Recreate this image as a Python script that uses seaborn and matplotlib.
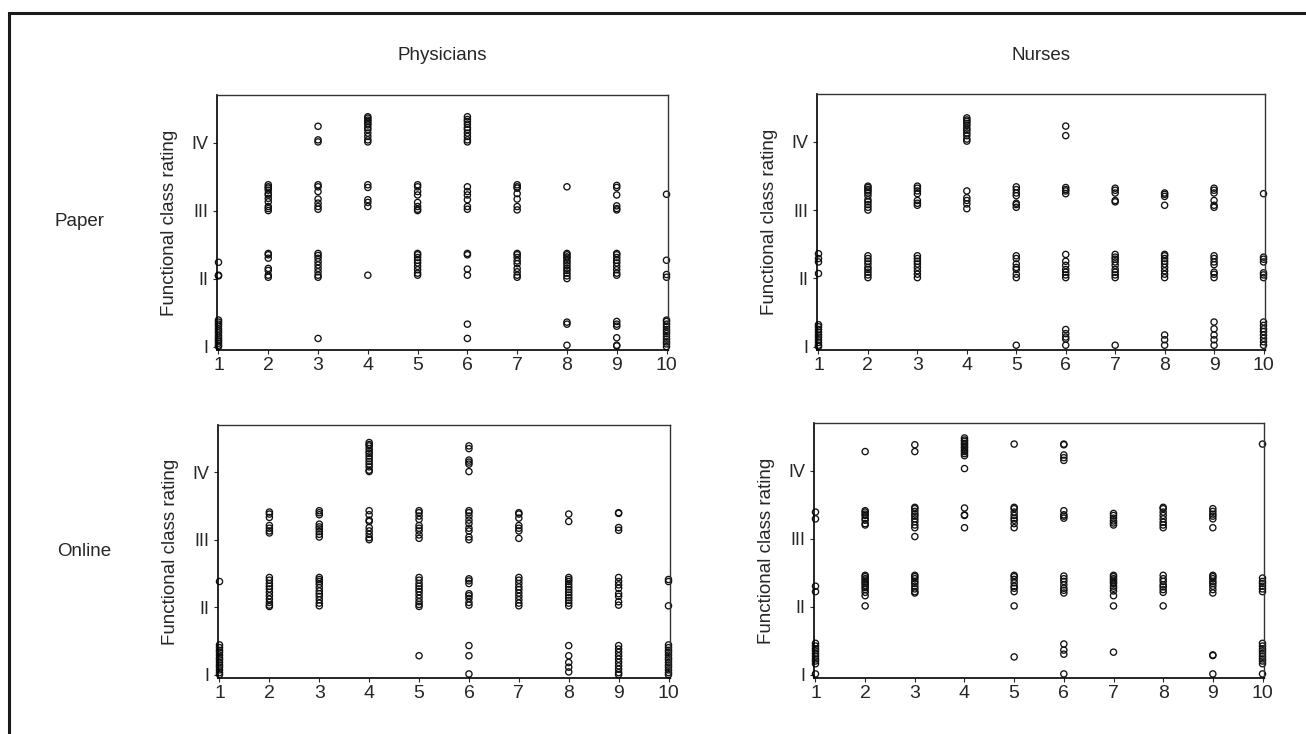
import pandas as pd
import matplotlib.pyplot as plt
import seaborn as sns
from matplotlib.patches import Rectangle

# jittered functional-class ratings per case (1..10)
phys_paper = {
    1: [1.00, 1.02, 1.05, 1.08, 1.10, 1.13, 1.16, 1.20, 1.23, 1.26, 1.30, 1.33, 1.36, 1.39, 2.04, 2.05, 2.24],
    2: [2.02, 2.05, 2.12, 2.15, 2.30, 2.35, 2.37, 3.00, 3.03, 3.06, 3.13, 3.18, 3.23, 3.25, 3.30, 3.33, 3.35, 3.38],
    3: [1.12, 2.02, 2.05, 2.10, 2.15, 2.20, 2.25, 2.30, 2.34, 2.37, 3.02, 3.06, 3.11, 3.17, 3.28, 3.35, 3.38,
        4.01, 4.04, 4.24],
    4: [2.05, 3.06, 3.12, 3.16, 3.34, 3.38, 4.01, 4.04, 4.09, 4.14, 4.19, 4.22, 4.26, 4.28, 4.31, 4.33, 4.36, 4.38],
    5: [2.05, 2.08, 2.13, 2.18, 2.23, 2.27, 2.31, 2.35, 2.37, 3.00, 3.02, 3.06, 3.12, 3.23, 3.28, 3.35, 3.38],
    6: [1.12, 1.33, 2.05, 2.14, 2.35, 2.37, 3.02, 3.06, 3.16, 3.23, 3.28, 3.35, 4.01, 4.04, 4.09, 4.14, 4.19,
        4.22, 4.27, 4.31, 4.34, 4.38],
    7: [2.02, 2.05, 2.10, 2.15, 2.22, 2.26, 2.31, 2.35, 2.37, 3.01, 3.06, 3.17, 3.25, 3.33, 3.35, 3.38],
    8: [1.02, 1.33, 1.36, 2.00, 2.04, 2.08, 2.12, 2.15, 2.19, 2.23, 2.26, 2.30, 2.32, 2.35, 2.37, 3.35],
    9: [1.01, 1.02, 1.13, 1.30, 1.33, 1.37, 2.05, 2.08, 2.13, 2.18, 2.23, 2.27, 2.31, 2.35, 2.37, 3.01, 3.03,
        3.07, 3.23, 3.34, 3.37],
    10: [1.00, 1.04, 1.07, 1.11, 1.15, 1.19, 1.22, 1.25, 1.29, 1.33, 1.37, 1.39, 2.02, 2.06, 2.27, 3.24],
}

nurse_paper = {
    1: [1.00, 1.02, 1.06, 1.10, 1.14, 1.17, 1.21, 1.25, 1.29, 1.32, 2.07, 2.24, 2.29, 2.36],
    2: [2.01, 2.05, 2.09, 2.13, 2.16, 2.21, 2.25, 2.29, 2.33, 3.00, 3.04, 3.08, 3.12, 3.15, 3.21, 3.25, 3.28,
        3.30, 3.33, 3.35],
    3: [2.01, 2.06, 2.11, 2.16, 2.21, 2.25, 2.29, 2.33, 3.07, 3.10, 3.14, 3.24, 3.28, 3.32, 3.35],
    4: [3.02, 3.09, 3.14, 3.18, 3.28, 4.01, 4.04, 4.09, 4.13, 4.17, 4.20, 4.24, 4.27, 4.30, 4.32, 4.35],
    5: [1.02, 2.01, 2.06, 2.13, 2.16, 2.21, 2.29, 2.33, 3.04, 3.08, 3.10, 3.21, 3.25, 3.30, 3.34],
    6: [1.02, 1.11, 1.14, 1.19, 1.25, 2.01, 2.05, 2.09, 2.13, 2.19, 2.25, 2.35, 3.24, 3.28, 3.30, 3.33,
        4.09, 4.23],
    7: [1.02, 2.01, 2.05, 2.09, 2.13, 2.19, 2.24, 2.28, 2.31, 2.35, 3.12, 3.14, 3.25, 3.29, 3.32],
    8: [1.02, 1.10, 1.17, 2.01, 2.06, 2.11, 2.16, 2.21, 2.25, 2.29, 2.33, 2.35, 3.07, 3.20, 3.23, 3.25],
    9: [1.02, 1.10, 1.17, 1.26, 1.36, 2.01, 2.06, 2.09, 2.20, 2.24, 2.29, 2.33, 3.04, 3.07, 3.14, 3.25,
        3.29, 3.32],
    10: [1.02, 1.07, 1.12, 1.17, 1.22, 1.26, 1.31, 1.36, 2.01, 2.05, 2.08, 2.24, 2.28, 2.31, 3.24],
}

phys_online = {
    1: [1.00, 1.03, 1.07, 1.11, 1.14, 1.18, 1.22, 1.25, 1.29, 1.33, 1.36, 1.40, 1.44, 2.38],
    2: [2.01, 2.03, 2.07, 2.12, 2.17, 2.22, 2.27, 2.31, 2.35, 2.40, 2.44, 3.10, 3.13, 3.17, 3.21, 3.33,
        3.38, 3.41],
    3: [2.02, 2.06, 2.11, 2.16, 2.20, 2.24, 2.29, 2.34, 2.38, 2.41, 2.44, 3.04, 3.08, 3.12, 3.16, 3.19,
        3.23, 3.37, 3.40, 3.43],
    4: [3.00, 3.03, 3.08, 3.13, 3.18, 3.27, 3.29, 3.37, 3.43, 4.01, 4.03, 4.08, 4.12, 4.16, 4.20, 4.24,
        4.28, 4.31, 4.35, 4.39, 4.41, 4.44],
    5: [1.28, 2.01, 2.04, 2.08, 2.13, 2.18, 2.23, 2.27, 2.31, 2.35, 2.40, 2.44, 3.02, 3.07, 3.13, 3.17,
        3.21, 3.30, 3.35, 3.40, 3.43],
    6: [1.01, 1.28, 1.43, 2.03, 2.07, 2.13, 2.17, 2.20, 2.35, 2.39, 2.42, 3.00, 3.04, 3.13, 3.17, 3.24,
        3.29, 3.35, 3.40, 3.43, 4.01, 4.12, 4.15, 4.18, 4.35, 4.39],
    7: [2.02, 2.06, 2.11, 2.16, 2.21, 2.26, 2.30, 2.35, 2.40, 2.44, 3.02, 3.13, 3.17, 3.21, 3.32, 3.38, 3.40],
    8: [1.04, 1.11, 1.18, 1.28, 1.43, 2.02, 2.06, 2.10, 2.14, 2.18, 2.22, 2.26, 2.30, 2.34, 2.38, 2.41,
        2.44, 3.27, 3.38],
    9: [1.00, 1.03, 1.08, 1.13, 1.18, 1.23, 1.28, 1.33, 1.38, 1.43, 2.03, 2.08, 2.16, 2.20, 2.28, 2.33,
        2.38, 2.44, 3.14, 3.18, 3.39, 3.40],
    10: [1.00, 1.03, 1.07, 1.11, 1.14, 1.18, 1.22, 1.25, 1.29, 1.33, 1.36, 1.40, 1.44, 2.02, 2.38, 2.41],
}

nurse_online = {
    1: [1.01, 1.16, 1.20, 1.23, 1.27, 1.31, 1.35, 1.38, 1.42, 1.46, 2.22, 2.30, 3.29, 3.39],
    2: [2.01, 2.16, 2.21, 2.25, 2.28, 2.31, 2.34, 2.36, 2.39, 2.41, 2.44, 2.46, 3.20, 3.22, 3.27, 3.30,
        3.34, 3.36, 3.39, 3.41, 4.28],
    3: [2.20, 2.22, 2.26, 2.30, 2.34, 2.37, 2.41, 2.44, 2.46, 3.03, 3.16, 3.20, 3.25, 3.29, 3.33, 3.36,
        3.40, 3.44, 3.46, 4.28, 4.38],
    4: [3.16, 3.34, 3.35, 3.45, 4.03, 4.22, 4.25, 4.28, 4.30, 4.33, 4.35, 4.38, 4.40, 4.43, 4.45, 4.48],
    5: [1.26, 2.01, 2.22, 2.27, 2.30, 2.35, 2.40, 2.44, 2.46, 3.16, 3.22, 3.27, 3.30, 3.34, 3.39, 3.44,
        3.46, 4.39],
    6: [1.01, 1.30, 1.36, 1.45, 2.20, 2.24, 2.27, 2.32, 2.37, 2.41, 2.45, 3.30, 3.33, 3.35, 3.41, 4.15,
        4.19, 4.23, 4.38, 4.39],
    7: [1.33, 2.01, 2.16, 2.23, 2.27, 2.30, 2.34, 2.36, 2.39, 2.41, 2.44, 2.46, 3.20, 3.23, 3.26, 3.30,
        3.34, 3.37],
    8: [2.01, 2.21, 2.25, 2.29, 2.32, 2.37, 2.41, 2.46, 3.16, 3.20, 3.24, 3.29, 3.34, 3.39, 3.44, 3.46],
    9: [1.01, 1.28, 1.29, 2.20, 2.25, 2.30, 2.34, 2.37, 2.41, 2.44, 2.46, 3.16, 3.29, 3.33, 3.36, 3.40, 3.44],
    10: [1.01, 1.16, 1.20, 1.23, 1.27, 1.31, 1.35, 1.38, 1.42, 1.46, 2.22, 2.26, 2.30, 2.34, 2.37, 2.42, 4.39],
}

case_ticks = list(range(1, 11))
class_ticks = [1, 2, 3, 4]
class_labels = ["I", "II", "III", "IV"]
col_titles = ["Physicians", "Nurses"]
row_titles = ["Paper", "Online"]


def to_frame(d):
    rows = [(x, y) for x, ys in d.items() for y in ys]
    return pd.DataFrame(rows, columns=["case", "rating"])


sns.set_style("ticks")
plt.rcParams["font.family"] = ["Liberation Sans", "DejaVu Sans"]

W, H = 1306, 734
fig = plt.figure(figsize=(W / 100, H / 100), dpi=100)

# axes boxes in pixels: left, top, right, bottom
boxes = [
    (phys_paper, (217, 95, 668, 350)),
    (nurse_paper, (817, 94, 1265, 350)),
    (phys_online, (218, 425, 670, 678)),
    (nurse_online, (814, 423, 1264, 678)),
]

for data, (l, t, r, b) in boxes:
    ax = fig.add_axes([l / W, 1 - b / H, (r - l) / W, (b - t) / H])
    df = to_frame(data)
    sns.scatterplot(data=df, x="case", y="rating", ax=ax, marker="o", s=20,
                    facecolor="none", edgecolor="#111111", linewidth=0.95,
                    clip_on=False, legend=False)
    ax.set_xlim(0.97, 10.03)
    ax.set_ylim(0.95, 4.7)
    ax.set_xticks(case_ticks)
    ax.set_yticks(class_ticks)
    ax.set_yticklabels(class_labels)
    ax.set_xlabel("")
    ax.set_ylabel("Functional class rating", fontsize=13.5, labelpad=10)
    ax.tick_params(axis="x", direction="out", length=3, width=0.8, pad=2, labelsize=14)
    ax.tick_params(axis="y", direction="out", length=3, width=0.8, pad=3, labelsize=13)
    for side in ["left", "bottom"]:
        ax.spines[side].set_color("black")
        ax.spines[side].set_linewidth(1.2)
    for side in ["top", "right"]:
        ax.spines[side].set_color("#333333")
        ax.spines[side].set_linewidth(1.0)

fig.text(442 / W, 1 - 55 / H, col_titles[0], ha="center", va="center", fontsize=13.5)
fig.text(1041 / W, 1 - 55 / H, col_titles[1], ha="center", va="center", fontsize=13.5)
fig.text(80 / W, 1 - 222 / H, row_titles[0], ha="center", va="center", fontsize=13.5)
fig.text(84 / W, 1 - 552 / H, row_titles[1], ha="center", va="center", fontsize=13.5)

# outer frame (only left and top edges are inside the image)
fig.patches.append(Rectangle((9 / W, -0.1), 1.2, 1 - 13 / H + 0.1, transform=fig.transFigure,
                             fill=False, edgecolor="#1a1a1a", linewidth=2.2))

fig.savefig("out.png", dpi=100)
